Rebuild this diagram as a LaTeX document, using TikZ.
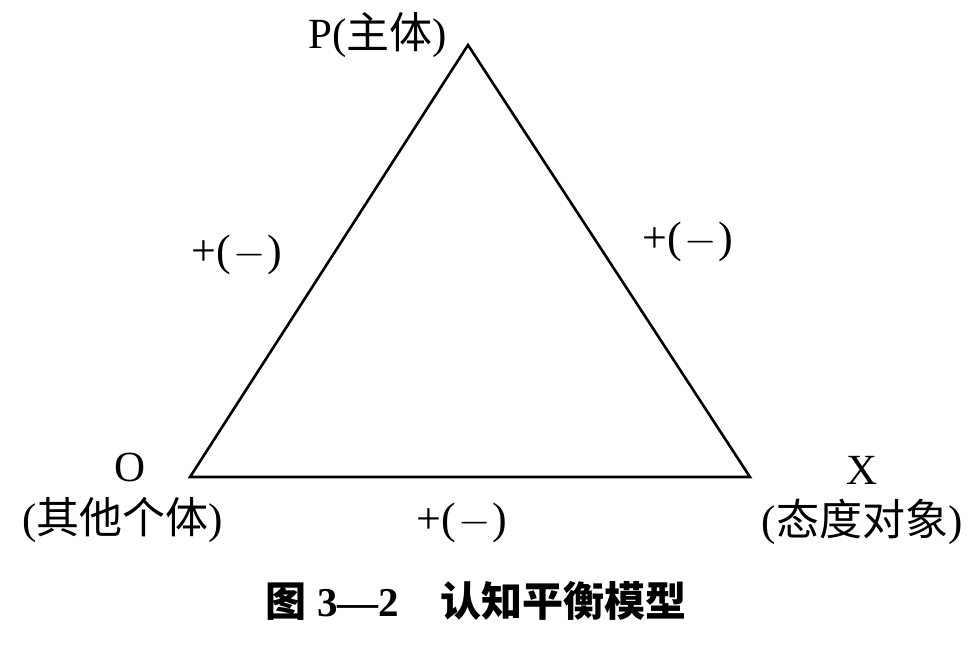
\documentclass[tikz,border=0pt]{standalone}
\usepackage{fontspec}
\setmainfont{Liberation Serif}
\newfontfamily\cjk{Noto Sans CJK SC}
\begin{document}
\begin{tikzpicture}[x=0.5pt,y=-0.5pt,
    lbl/.style={font=\fontsize{21.5}{24}\selectfont, inner sep=0pt},
    sign/.style={lbl, font=\fontsize{22}{24}\selectfont}]
        \useasboundingbox (0,0) rectangle (976,644);
        \coordinate (P) at (468,45);
        \coordinate (O) at (190,477);
        \coordinate (X) at (750,477);
        \draw[line width=1.3pt, line join=miter] (P) -- (O) -- (X) -- cycle;
        \node[lbl] (p-lbl) at (378,35) {P({\cjk 主体})};
        \node[lbl] (o-lbl) at (130,467) {O};
        \node[lbl] (o-sub) at (123,520) {({\cjk 其他个体})};
        \node[lbl] (x-lbl) at (862,470) {X};
        \node[lbl] (x-sub) at (862,522) {({\cjk 态度对象})};
        \node[sign] (po-sign) at (237,255) {+(\kern1pt$-$\kern1pt)};
        \node[sign] (px-sign) at (688,242) {+(\kern1pt$-$\kern1pt)};
        \node[sign] (ox-sign) at (462,523) {+(\kern1pt$-$\kern1pt)};
        \node[lbl, font=\fontsize{20.5}{22}\selectfont\bfseries] (caption) at (476,601) {{\cjk 图} 3—2\quad{\cjk 认知平衡模型}};
\end{tikzpicture}
\end{document}
